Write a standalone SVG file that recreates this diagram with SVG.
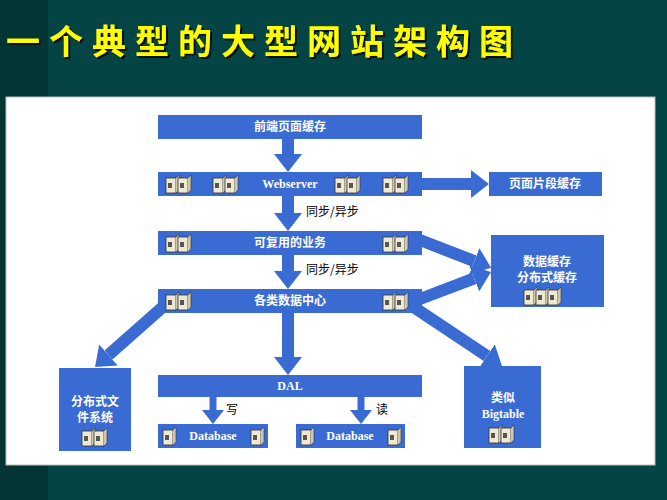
<svg xmlns="http://www.w3.org/2000/svg" width="667" height="500" viewBox="0 0 667 500">
<style>
.box{fill:#3a6bd3}
.t{font-family:"Noto Sans CJK SC","Liberation Serif",sans-serif;fill:#fff;font-size:12px;text-anchor:middle;font-weight:bold}
.e{font-family:"Liberation Serif",serif;fill:#fff;font-size:12px;font-weight:bold;text-anchor:middle}
.c{stroke:#3a6bd3;stroke-width:12;fill:none}
.s{stroke:#3a6bd3;stroke-width:7;fill:none}
.lbl{font-family:"Noto Sans CJK SC",sans-serif;font-size:12px;fill:#000}
</style>
<defs>
<filter id="sh" x="-5%" y="-20%" width="110%" height="140%"><feDropShadow dx="2" dy="2" stdDeviation="0.5" flood-color="#111"/></filter>
<marker id="ah" markerUnits="userSpaceOnUse" markerWidth="18" markerHeight="28" refX="0" refY="14" orient="auto"><path d="M0,0 L18,14 L0,28 Z" fill="#3a6bd3"/></marker>
<marker id="ahs" markerUnits="userSpaceOnUse" markerWidth="14" markerHeight="22" refX="0" refY="11" orient="auto"><path d="M0,0 L14,11 L0,22 Z" fill="#3a6bd3"/></marker>
<g id="pc"><rect x="0" y="3" width="10" height="15" fill="#efe9d2" stroke="#333" stroke-width="0.8"/><rect x="2" y="8" width="4" height="5" fill="#555"/><path d="M10,3 l3,-3 v15 l-3,3" fill="#cfc8b0" stroke="#333" stroke-width="0.6"/></g>
<g id="pc2"><use href="#pc"/><use href="#pc" x="12"/></g>
</defs>
<rect width="667" height="500" fill="#054444"/>
<rect width="48" height="500" fill="#033535"/>
<text x="6" y="54" font-family="Noto Sans CJK SC,sans-serif" font-size="34" font-weight="bold" letter-spacing="9" fill="#ffff00" filter="url(#sh)">一个典型的大型网站架构图</text>
<rect x="6" y="97" width="649" height="368" fill="#fff" stroke="#bbb"/>
<g id="connectors">
<line class="c" x1="288" y1="139" x2="288" y2="154" marker-end="url(#ah)"/>
<line class="c" x1="288" y1="196" x2="288" y2="213" marker-end="url(#ah)"/>
<line class="c" x1="288" y1="255" x2="288" y2="271" marker-end="url(#ah)"/>
<line class="c" x1="288" y1="313" x2="288" y2="357" marker-end="url(#ah)"/>
<line class="c" x1="422" y1="184" x2="471" y2="184" marker-end="url(#ah)"/>
<line class="c" x1="420" y1="240" x2="474.3" y2="261.2" marker-end="url(#ah)"/>
<line class="c" x1="420" y1="299" x2="474.2" y2="278.4" marker-end="url(#ah)"/>
<line class="c" x1="165" y1="305" x2="108.5" y2="355.1" marker-end="url(#ah)"/>
<line class="c" x1="415" y1="308" x2="487" y2="356" marker-end="url(#ah)"/>
<line class="s" x1="213" y1="397" x2="213" y2="410" marker-end="url(#ahs)"/>
<line class="s" x1="361" y1="397" x2="361" y2="410" marker-end="url(#ahs)"/>
<text class="lbl" x="306" y="216">同步/异步</text>
<text class="lbl" x="306" y="274">同步/异步</text>
<text class="lbl" x="226" y="414" font-size="9">写</text>
<text class="lbl" x="376" y="414" font-size="9">读</text>
</g>
<g id="n1"><rect class="box" x="158" y="115" width="264" height="24"/><text class="t" x="290" y="131">前端页面缓存</text></g>
<g id="n2"><rect class="box" x="158" y="172" width="264" height="24"/><text class="e" x="290" y="188">Webserver</text>
<use href="#pc2" x="166" y="175"/><use href="#pc2" x="213" y="175"/><use href="#pc2" x="335" y="175"/><use href="#pc2" x="383" y="175"/></g>
<g id="n3"><rect class="box" x="489" y="172" width="113" height="24"/><text class="t" x="545" y="188">页面片段缓存</text></g>
<g id="n4"><rect class="box" x="158" y="231" width="264" height="24"/><text class="t" x="290" y="247">可复用的业务</text>
<use href="#pc2" x="166" y="234"/><use href="#pc2" x="383" y="234"/></g>
<g id="n5"><rect class="box" x="491" y="235" width="113" height="72"/><text class="t" x="547" y="266">数据缓存</text><text class="t" x="547" y="282">分布式缓存</text>
<use href="#pc2" x="524" y="287"/><use href="#pc" x="548" y="287"/></g>
<g id="n6"><rect class="box" x="158" y="289" width="264" height="24"/><text class="t" x="290" y="305">各类数据中心</text>
<use href="#pc2" x="166" y="292"/><use href="#pc2" x="383" y="292"/></g>
<g id="n7"><rect class="box" x="59" y="368" width="72" height="83"/><text class="t" x="95" y="406">分布式文</text><text class="t" x="95" y="422">件系统</text>
<use href="#pc2" x="82" y="428"/></g>
<g id="n8"><rect class="box" x="158" y="375" width="264" height="22"/><text class="e" x="290" y="390">DAL</text></g>
<g id="n9"><rect class="box" x="158" y="424" width="110" height="24"/><text class="e" x="213" y="440">Database</text><use href="#pc" x="163" y="427"/><use href="#pc" x="251" y="427"/></g>
<g id="n10"><rect class="box" x="296" y="424" width="109" height="24"/><text class="e" x="350" y="440">Database</text><use href="#pc" x="301" y="427"/><use href="#pc" x="388" y="427"/></g>
<g id="n11"><rect class="box" x="464" y="366" width="77" height="82"/><text class="t" x="503" y="402">类似</text><text class="e" x="503" y="418">Bigtable</text>
<use href="#pc2" x="489" y="425"/></g>
</svg>
